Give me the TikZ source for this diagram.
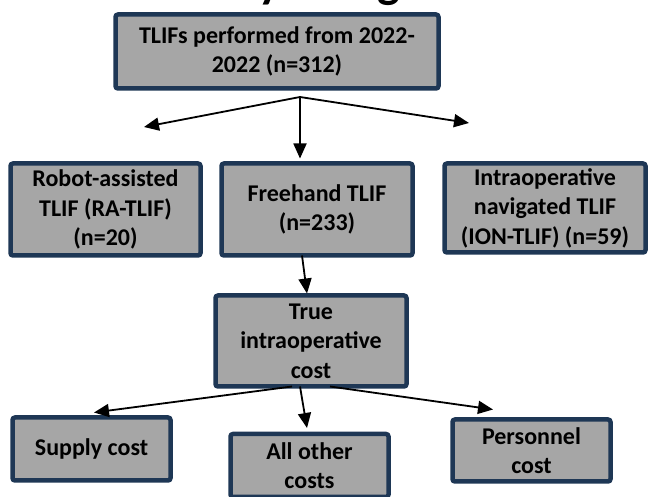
\documentclass[tikz,border=0pt]{standalone}
\usepackage{fontspec}
\setmainfont{Carlito}
\usetikzlibrary{arrows.meta}
\definecolor{boxline}{RGB}{30,55,85}
\definecolor{boxfill}{RGB}{166,166,166}
\begin{document}
\begin{tikzpicture}[x=1pt,y=-1pt,
  box/.style={draw=boxline, fill=boxfill, line width=4.5pt, rounded corners=2.5pt,
    align=center, inner sep=0pt, outer sep=0pt,
    font=\fontsize{24}{29.5}\selectfont\bfseries},
  conn/.style={line width=1.8pt, -{Triangle[length=15pt,width=13pt]}}]
\useasboundingbox (0,0) rectangle (649,497);
\clip (0,0) rectangle (649,497);
\node[anchor=base, font=\fontsize{48}{58}\selectfont\bfseries] (title) at (297,-2) {Study Design};
\node[box, minimum width=323pt, minimum height=74pt] (top) at (277,51.5) {TLIFs performed from 2022-\\2022 (n=312)};
\node[box, minimum width=190pt, minimum height=92pt] (ra) at (105.5,209.5) {Robot-assisted\\TLIF (RA-TLIF)\\(n=20)};
\node[box, minimum width=191pt, minimum height=92pt] (fh) at (317,209.5) {Freehand TLIF\\(n=233)};
\node[box, minimum width=201pt, minimum height=89pt] (ion) at (545,208) {Intraoperative\\navigated TLIF\\(ION-TLIF) (n=59)};
\node[box, minimum width=191pt, minimum height=91pt] (true) at (311,341) {True\\intraoperative\\cost};
\node[box, minimum width=158pt, minimum height=63pt] (sup) at (91.5,449) {Supply cost};
\node[box, minimum width=158pt, minimum height=63pt] (oth) at (309.5,465.5) {All other\\costs};
\node[box, minimum width=158pt, minimum height=62pt] (per) at (531.5,450.5) {Personnel\\cost};
\coordinate (split) at (300,97);
\coordinate (lt) at (144,127);
\coordinate (rt) at (469,123);
\draw[conn] (split) -- (lt);
\draw[conn] (split) -- (rt);
\draw[conn] (split) -- ([xshift=-17pt,yshift=5pt]fh.north);
\draw[conn] ([xshift=-15pt]fh.south) -- ([xshift=-4pt,yshift=2pt]true.north);
\draw[conn] ([xshift=-19pt]true.south) -- ([xshift=2.5pt,yshift=5pt]sup.north);
\draw[conn] ([xshift=-11pt]true.south) -- ([xshift=-2.5pt,yshift=6pt]oth.north);
\draw[conn] ([xshift=19pt]true.south) -- ([xshift=-38.5pt,yshift=10pt]per.north);
\end{tikzpicture}
\end{document}
